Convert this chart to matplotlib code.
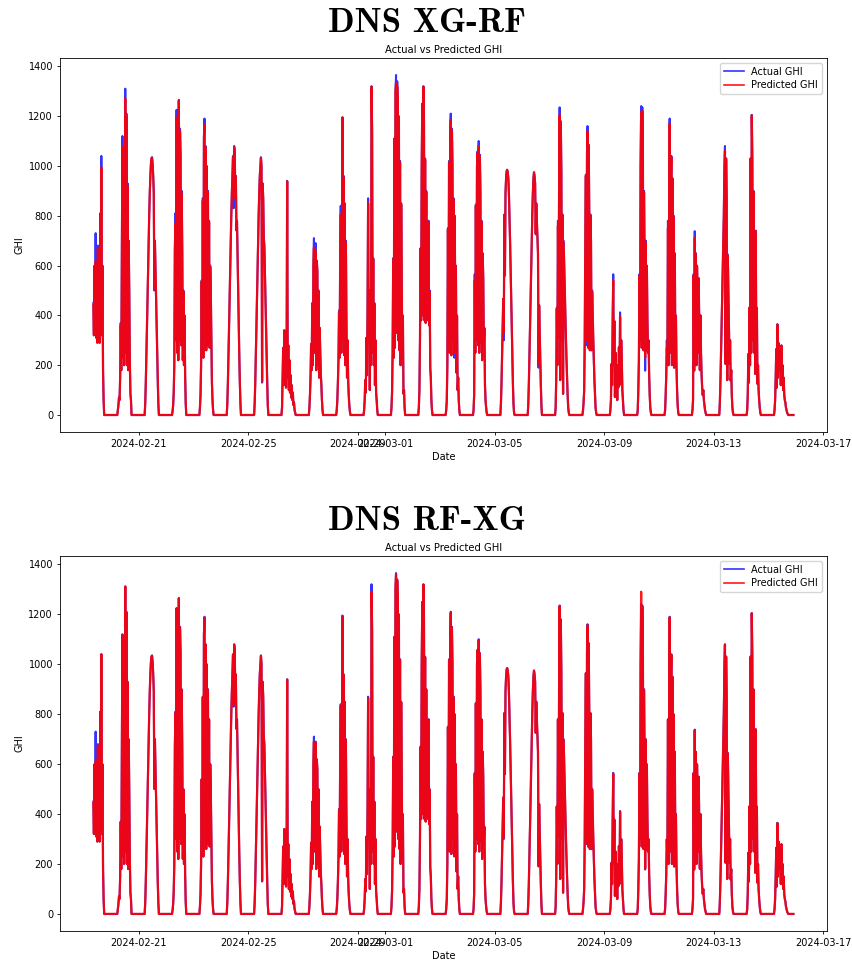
import numpy as np
import pandas as pd
import matplotlib
matplotlib.use("Agg")
import matplotlib.pyplot as plt

# ---------------- data (30-min samples, one row per day) ----------------
day_dates = ["2024-02-19", "2024-02-20", "2024-02-21", "2024-02-22", "2024-02-23",
             "2024-02-24", "2024-02-25", "2024-02-26", "2024-02-27", "2024-02-28",
             "2024-02-29", "2024-03-01", "2024-03-02", "2024-03-03", "2024-03-04",
             "2024-03-05", "2024-03-06", "2024-03-07", "2024-03-08", "2024-03-09",
             "2024-03-10", "2024-03-11", "2024-03-12", "2024-03-13", "2024-03-14",
             "2024-03-15"]
# first sample time of each day (hours, UTC)
day_first_hour = [8.0] + [5.0] * 25

actual_ghi = [
    [450, 320, 600, 330, 730, 310, 620, 290, 680, 300, 560, 290, 810, 320, 1040, 360, 600, 180, 60, 0],
    [0, 20, 40, 70, 60, 150, 370, 180, 650, 1120, 230, 900, 200, 760, 1310, 250, 1210, 200, 930, 180, 700, 500, 220, 85, 60, 0],
    [0, 46, 128, 231, 346, 466, 586, 700, 803, 891, 960, 1008, 1032, 1035, 1008, 960, 891, 500, 700, 586, 466, 346, 231, 128, 46, 0],
    [0, 15, 40, 90, 200, 670, 810, 300, 1225, 250, 1000, 220, 1265, 300, 1150, 1045, 280, 900, 650, 220, 500, 200, 400, 160, 50, 0],
    [0, 30, 80, 200, 540, 250, 870, 230, 1120, 1190, 300, 1080, 260, 1000, 280, 900, 350, 780, 270, 600, 500, 300, 130, 60, 20, 0],
    [0, 46, 128, 231, 346, 466, 586, 700, 803, 891, 960, 1040, 830, 1080, 1060, 885, 960, 740, 780, 640, 500, 370, 240, 130, 46, 0],
    [0, 46, 128, 231, 346, 466, 586, 700, 803, 891, 960, 1000, 1035, 1000, 130, 930, 870, 710, 680, 570, 450, 330, 220, 120, 40, 0],
    [0, 30, 150, 270, 120, 340, 180, 260, 110, 200, 940, 150, 280, 100, 220, 90, 160, 70, 120, 60, 90, 40, 50, 20, 10, 0],
    [0, 30, 80, 150, 285, 180, 450, 200, 600, 710, 250, 550, 690, 180, 620, 580, 200, 500, 150, 350, 260, 165, 120, 60, 20, 0],
    [0, 20, 60, 130, 220, 420, 230, 630, 840, 250, 600, 1195, 300, 960, 240, 850, 200, 700, 380, 150, 300, 140, 80, 40, 15, 0],
    [0, 20, 60, 140, 90, 310, 160, 420, 870, 300, 500, 100, 490, 200, 1320, 1140, 250, 630, 200, 450, 120, 300, 90, 60, 20, 0],
    [0, 30, 90, 250, 630, 230, 1110, 270, 1300, 1365, 330, 1340, 1250, 300, 1200, 260, 1020, 200, 850, 565, 230, 400, 85, 100, 30, 0],
    [0, 30, 100, 300, 670, 380, 1000, 1250, 400, 1320, 1180, 380, 1030, 370, 900, 400, 650, 380, 780, 360, 500, 190, 150, 60, 20, 0],
    [0, 20, 58, 200, 750, 280, 1020, 250, 1110, 1210, 240, 1150, 1005, 300, 870, 230, 800, 350, 600, 170, 400, 100, 150, 60, 20, 0],
    [0, 20, 80, 565, 250, 845, 300, 1000, 1058, 280, 1100, 250, 1045, 900, 290, 780, 220, 650, 550, 280, 350, 120, 60, 30, 10, 0],
    [0, 46, 128, 231, 346, 466, 300, 805, 560, 891, 950, 980, 985, 975, 950, 890, 800, 700, 586, 466, 346, 231, 128, 46, 10, 0],
    [0, 46, 128, 231, 346, 466, 586, 700, 803, 891, 950, 975, 960, 930, 725, 850, 780, 700, 650, 190, 440, 330, 220, 120, 40, 0],
    [0, 30, 150, 431, 200, 780, 311, 900, 1235, 140, 1180, 978, 300, 805, 85, 700, 600, 500, 400, 300, 220, 150, 80, 30, 10, 0],
    [0, 20, 50, 98, 300, 700, 965, 280, 1050, 1160, 270, 1085, 800, 260, 805, 700, 260, 500, 400, 300, 220, 140, 80, 30, 10, 0],
    [0, 20, 60, 205, 120, 380, 565, 200, 378, 72, 250, 100, 178, 60, 200, 111, 272, 120, 412, 150, 300, 218, 100, 60, 20, 0],
    [0, 20, 100, 218, 565, 300, 1005, 1240, 270, 1235, 1085, 260, 900, 645, 178, 700, 258, 600, 380, 250, 300, 160, 80, 30, 10, 0],
    [0, 20, 80, 160, 300, 220, 780, 200, 620, 1190, 250, 900, 1040, 200, 950, 300, 800, 190, 650, 260, 400, 191, 100, 40, 10, 0],
    [0, 20, 60, 565, 178, 738, 245, 650, 200, 600, 470, 250, 550, 325, 180, 400, 250, 160, 110, 80, 100, 60, 40, 20, 10, 0],
    [0, 46, 128, 231, 346, 466, 586, 700, 803, 978, 1080, 205, 1031, 858, 140, 645, 500, 378, 205, 300, 138, 180, 80, 30, 10, 0],
    [0, 20, 80, 245, 130, 431, 200, 1031, 250, 1205, 1031, 300, 900, 250, 590, 165, 740, 280, 430, 125, 200, 100, 60, 30, 10, 0],
    [0, 20, 60, 150, 265, 110, 365, 150, 290, 250, 180, 245, 120, 280, 150, 200, 100, 150, 80, 60, 50, 30, 20, 10, 5, 0, 0, 0, 0, 0, 0, 0, 0, 0, 0],
]

pred_xgrf = [
    [440, 320, 590, 330, 615, 310, 610, 290, 670, 300, 555, 290, 780, 320, 995, 360, 590, 180, 60, 0],
    [0, 20, 40, 70, 60, 150, 360, 180, 640, 1080, 230, 890, 200, 750, 1270, 250, 1200, 200, 920, 180, 690, 500, 220, 85, 60, 0],
    [0, 46, 128, 231, 346, 466, 586, 700, 803, 891, 958, 1005, 1030, 1033, 1006, 958, 889, 505, 698, 586, 466, 346, 231, 128, 46, 0],
    [0, 15, 40, 90, 200, 660, 770, 300, 1195, 250, 990, 220, 1262, 300, 1140, 1040, 280, 890, 645, 220, 495, 200, 395, 160, 50, 0],
    [0, 30, 80, 200, 535, 250, 860, 230, 1110, 1168, 300, 1075, 260, 995, 280, 895, 350, 775, 270, 595, 500, 300, 130, 60, 20, 0],
    [0, 46, 128, 231, 346, 466, 586, 700, 803, 891, 958, 1035, 870, 1075, 1055, 885, 955, 745, 775, 640, 500, 370, 240, 130, 46, 0],
    [0, 46, 128, 231, 346, 466, 586, 700, 803, 891, 958, 998, 1032, 998, 135, 925, 868, 710, 678, 570, 450, 330, 220, 120, 40, 0],
    [0, 30, 150, 270, 120, 340, 180, 260, 110, 200, 938, 150, 280, 100, 220, 90, 160, 70, 120, 60, 90, 40, 50, 20, 10, 0],
    [0, 30, 80, 150, 285, 180, 445, 200, 595, 672, 250, 545, 658, 180, 615, 575, 200, 495, 150, 350, 260, 165, 120, 60, 20, 0],
    [0, 20, 60, 130, 220, 415, 230, 625, 805, 250, 595, 1195, 300, 955, 240, 845, 200, 695, 360, 150, 300, 140, 80, 40, 15, 0],
    [0, 20, 60, 140, 90, 310, 160, 415, 850, 300, 495, 100, 490, 200, 1318, 1135, 250, 625, 200, 445, 120, 300, 90, 60, 20, 0],
    [0, 30, 90, 250, 625, 230, 1105, 270, 1295, 1332, 330, 1320, 1245, 300, 1195, 260, 1015, 200, 845, 560, 230, 395, 85, 100, 30, 0],
    [0, 30, 100, 300, 665, 380, 995, 1240, 400, 1318, 1175, 380, 1025, 370, 895, 400, 645, 400, 775, 360, 495, 190, 150, 60, 20, 0],
    [0, 20, 58, 200, 745, 280, 1015, 250, 1105, 1185, 240, 1145, 1000, 300, 865, 250, 795, 350, 595, 170, 395, 100, 150, 60, 20, 0],
    [0, 20, 80, 540, 250, 840, 300, 995, 1052, 280, 1080, 250, 1040, 895, 290, 775, 220, 645, 545, 280, 345, 120, 60, 30, 10, 0],
    [0, 46, 128, 231, 346, 466, 330, 800, 560, 889, 948, 978, 983, 973, 948, 888, 798, 700, 586, 466, 346, 231, 128, 46, 10, 0],
    [0, 46, 128, 231, 346, 466, 586, 700, 803, 889, 948, 973, 958, 928, 730, 848, 778, 700, 648, 200, 440, 330, 220, 120, 40, 0],
    [0, 30, 150, 425, 200, 760, 311, 895, 1205, 140, 1175, 975, 300, 800, 85, 695, 600, 500, 400, 300, 220, 150, 80, 30, 10, 0],
    [0, 20, 50, 98, 300, 695, 960, 300, 1045, 1140, 270, 1080, 795, 260, 800, 695, 260, 495, 400, 300, 220, 140, 80, 30, 10, 0],
    [0, 20, 60, 205, 120, 375, 540, 200, 375, 72, 250, 100, 178, 60, 200, 111, 272, 120, 395, 150, 300, 218, 100, 60, 20, 0],
    [0, 20, 100, 218, 560, 300, 1000, 1215, 270, 1220, 1080, 260, 895, 630, 230, 695, 258, 595, 380, 250, 300, 160, 80, 30, 10, 0],
    [0, 20, 80, 160, 270, 220, 750, 200, 615, 1170, 250, 895, 1035, 200, 945, 300, 795, 190, 645, 260, 395, 191, 100, 40, 10, 0],
    [0, 20, 60, 560, 178, 712, 245, 645, 200, 595, 470, 250, 545, 325, 180, 400, 250, 160, 110, 80, 100, 60, 40, 20, 10, 0],
    [0, 46, 128, 231, 346, 466, 586, 700, 803, 975, 1060, 205, 1028, 855, 140, 640, 500, 378, 205, 300, 138, 180, 80, 30, 10, 0],
    [0, 20, 80, 245, 130, 431, 200, 1028, 250, 1203, 1028, 300, 898, 250, 588, 165, 738, 280, 428, 125, 200, 100, 60, 30, 10, 0],
    [0, 20, 60, 150, 265, 110, 362, 150, 288, 250, 180, 245, 120, 278, 150, 200, 100, 150, 80, 60, 50, 30, 20, 10, 5, 0, 0, 0, 0, 0, 0, 0, 0, 0, 0],
]

pred_rfxg = [
    [445, 320, 595, 330, 610, 310, 615, 290, 675, 300, 558, 290, 800, 320, 1040, 360, 595, 180, 60, 0],
    [0, 20, 40, 70, 60, 150, 368, 180, 648, 1115, 230, 898, 200, 758, 1312, 250, 1208, 200, 928, 180, 698, 500, 220, 85, 60, 0],
    [0, 46, 128, 231, 346, 466, 586, 700, 803, 891, 960, 1007, 1031, 1034, 1007, 960, 890, 502, 699, 586, 466, 346, 231, 128, 46, 0],
    [0, 15, 40, 90, 200, 668, 805, 300, 1222, 250, 998, 220, 1264, 300, 1148, 1044, 280, 898, 648, 220, 498, 200, 398, 160, 50, 0],
    [0, 30, 80, 200, 538, 250, 868, 230, 1118, 1186, 300, 1078, 260, 998, 280, 898, 350, 778, 270, 598, 500, 300, 130, 60, 20, 0],
    [0, 46, 128, 231, 346, 466, 586, 700, 803, 891, 960, 1038, 835, 1078, 1058, 885, 958, 742, 778, 640, 500, 370, 240, 130, 46, 0],
    [0, 46, 128, 231, 346, 466, 586, 700, 803, 891, 960, 999, 1034, 999, 132, 928, 869, 710, 679, 570, 450, 330, 220, 120, 40, 0],
    [0, 30, 150, 270, 120, 340, 180, 260, 110, 200, 938, 150, 280, 100, 220, 90, 160, 70, 120, 60, 90, 40, 50, 20, 10, 0],
    [0, 30, 80, 150, 285, 180, 448, 200, 598, 690, 250, 548, 685, 180, 618, 578, 200, 498, 150, 350, 260, 165, 120, 60, 20, 0],
    [0, 20, 60, 130, 220, 418, 230, 628, 835, 250, 598, 1190, 300, 958, 240, 848, 200, 698, 378, 150, 300, 140, 80, 40, 15, 0],
    [0, 20, 60, 140, 90, 310, 160, 418, 865, 300, 498, 100, 490, 200, 1290, 1138, 250, 628, 200, 448, 120, 300, 90, 60, 20, 0],
    [0, 30, 90, 250, 628, 230, 1108, 270, 1298, 1360, 330, 1336, 1248, 300, 1198, 260, 1018, 200, 848, 563, 230, 398, 85, 100, 30, 0],
    [0, 30, 100, 300, 668, 380, 998, 1248, 400, 1319, 1178, 380, 1028, 370, 898, 400, 648, 382, 778, 360, 498, 190, 150, 60, 20, 0],
    [0, 20, 58, 200, 748, 280, 1018, 250, 1108, 1205, 240, 1148, 1003, 300, 868, 232, 798, 350, 598, 170, 398, 100, 150, 60, 20, 0],
    [0, 20, 80, 560, 250, 843, 300, 998, 1056, 280, 1096, 250, 1043, 898, 290, 778, 220, 648, 548, 280, 348, 120, 60, 30, 10, 0],
    [0, 46, 128, 231, 346, 466, 305, 803, 560, 890, 949, 979, 984, 974, 949, 889, 799, 700, 586, 466, 346, 231, 128, 46, 10, 0],
    [0, 46, 128, 231, 346, 466, 586, 700, 803, 890, 949, 974, 959, 929, 726, 849, 779, 700, 649, 192, 440, 330, 220, 120, 40, 0],
    [0, 30, 150, 430, 200, 778, 311, 898, 1232, 140, 1178, 977, 300, 803, 85, 698, 600, 500, 400, 300, 220, 150, 80, 30, 10, 0],
    [0, 20, 50, 98, 300, 698, 963, 282, 1048, 1157, 270, 1083, 798, 260, 803, 698, 260, 498, 400, 300, 220, 140, 80, 30, 10, 0],
    [0, 20, 60, 205, 120, 378, 560, 200, 377, 72, 250, 100, 178, 60, 200, 111, 272, 120, 410, 150, 300, 218, 100, 60, 20, 0],
    [0, 20, 100, 218, 563, 300, 1003, 1290, 270, 1232, 1083, 260, 898, 643, 182, 698, 258, 598, 380, 250, 300, 160, 80, 30, 10, 0],
    [0, 20, 80, 160, 298, 220, 778, 200, 618, 1188, 250, 898, 1038, 200, 948, 300, 798, 190, 648, 260, 398, 191, 100, 40, 10, 0],
    [0, 20, 60, 563, 178, 735, 245, 648, 200, 598, 470, 250, 548, 325, 180, 400, 250, 160, 110, 80, 100, 60, 40, 20, 10, 0],
    [0, 46, 128, 231, 346, 466, 586, 700, 803, 977, 1078, 205, 1030, 857, 140, 643, 500, 378, 205, 300, 138, 180, 80, 30, 10, 0],
    [0, 20, 80, 245, 130, 431, 200, 1030, 250, 1204, 1030, 300, 899, 250, 589, 165, 739, 280, 429, 125, 200, 100, 60, 30, 10, 0],
    [0, 20, 60, 150, 265, 110, 364, 150, 289, 250, 180, 245, 120, 279, 150, 200, 100, 150, 80, 60, 50, 30, 20, 10, 5, 0, 0, 0, 0, 0, 0, 0, 0, 0, 0],
]

chart_titles = ["DNS XG-RF", "DNS RF-XG"]
subtitle = "Actual vs Predicted GHI"
series_labels = ["Actual GHI", "Predicted GHI"]
x_range = ["2024-02-18 02:45", "2024-03-17 03:30"]


def build_series(rows):
    ts, vs = [], []
    for d, h0, vals in zip(day_dates, day_first_hour, rows):
        start = pd.Timestamp(d) + pd.Timedelta(hours=h0)
        for k, v in enumerate(vals):
            ts.append(start + pd.Timedelta(minutes=30 * k))
            vs.append(v)
    return np.array(ts, dtype="datetime64[ns]"), np.array(vs, dtype=float)


t_act, y_act = build_series(actual_ghi)
t_p1, y_p1 = build_series(pred_xgrf)
t_p2, y_p2 = build_series(pred_rfxg)

# ---------------- figure ----------------
W, H = 853, 961
fig = plt.figure(figsize=(W / 100, H / 100), dpi=100)
fig.patch.set_facecolor("white")

panels = [
    dict(top=58, bottom=432, title_y=23, pred=(t_p1, y_p1)),
    dict(top=556, bottom=931, title_y=522, pred=(t_p2, y_p2)),
]
left, right = 60, 827

for title, p in zip(chart_titles, panels):
    ax = fig.add_axes([left / W, 1 - p["bottom"] / H, (right - left) / W,
                       (p["bottom"] - p["top"]) / H])
    ax.plot(t_act, y_act, color="blue", lw=1.5, alpha=0.8, label=series_labels[0])
    ax.plot(p["pred"][0], p["pred"][1], color="red", lw=1.6, alpha=0.9,
            label=series_labels[1])
    ax.set_xlim(np.datetime64(pd.Timestamp(x_range[0])), np.datetime64(pd.Timestamp(x_range[1])))
    ax.set_title(subtitle, fontsize=7.2, pad=3.5)
    ax.set_xlabel("Date", fontsize=7, labelpad=2.5)
    ax.set_ylabel("GHI", fontsize=7, labelpad=3)
    ax.tick_params(labelsize=7, length=2.5, width=0.6, pad=2.5)
    for s in ax.spines.values():
        s.set_linewidth(0.6)
    leg = ax.legend(loc="upper right", fontsize=7, framealpha=0.8, borderpad=0.4,
                    handlelength=2.0, labelspacing=0.35)
    for ln in leg.get_lines():
        ln.set_linewidth(1.2)
    fig.text(0.5, 1 - p["title_y"] / H, title, ha="center", va="center",
             fontsize=25, fontfamily="cmb10")

fig.savefig("out.png", dpi=100)
